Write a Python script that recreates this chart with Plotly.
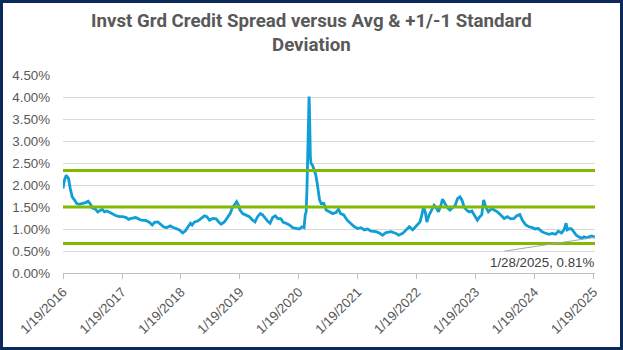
import plotly.graph_objects as go

# ---- data ----
dates = [
    "2016-01-19","2016-01-28","2016-02-08","2016-02-22","2016-03-04","2016-03-16","2016-03-30","2016-04-13",
    "2016-04-30","2016-05-21","2016-06-06","2016-06-23","2016-07-05","2016-07-18","2016-08-07","2016-08-21",
    "2016-09-05","2016-09-18","2016-10-02","2016-10-16","2016-11-02","2016-11-22","2016-12-13","2017-01-03",
    "2017-01-24","2017-02-14","2017-02-28","2017-03-17","2017-04-13","2017-05-01","2017-05-18","2017-06-18",
    "2017-07-08","2017-07-25","2017-08-08","2017-08-29","2017-09-14","2017-10-03","2017-10-20","2017-11-13",
    "2017-11-29","2017-12-20","2018-01-10","2018-01-30","2018-02-16","2018-03-02","2018-03-19","2018-03-29",
    "2018-04-13","2018-05-03","2018-05-24","2018-06-14","2018-06-28","2018-07-15","2018-08-04","2018-08-25",
    "2018-09-10","2018-09-25","2018-10-15","2018-11-05","2018-11-20","2018-12-02","2018-12-16","2018-12-30",
    "2019-01-08","2019-01-20","2019-02-05","2019-02-26","2019-03-19","2019-04-08","2019-04-23","2019-05-09",
    "2019-05-26","2019-06-09","2019-06-26","2019-07-10","2019-07-25","2019-08-10","2019-08-27","2019-09-10",
    "2019-10-01","2019-10-15","2019-11-01","2019-11-22","2019-12-12","2020-01-02","2020-01-22","2020-02-08",
    "2020-02-21","2020-02-28","2020-03-05","2020-03-10","2020-03-16","2020-03-19","2020-03-23","2020-03-25",
    "2020-03-27","2020-03-31","2020-04-04","2020-04-13","2020-04-24","2020-05-04","2020-05-11","2020-05-19",
    "2020-05-27","2020-06-06","2020-06-22","2020-07-07","2020-07-27","2020-08-17","2020-09-07","2020-09-21",
    "2020-10-04","2020-10-24","2020-11-14","2020-12-04","2020-12-29","2021-01-18","2021-02-08","2021-02-28",
    "2021-03-21","2021-04-11","2021-05-12","2021-06-01","2021-06-22","2021-07-13","2021-08-13","2021-09-13",
    "2021-09-29","2021-10-24","2021-11-14","2021-12-04","2021-12-25","2022-01-10","2022-01-24","2022-02-08",
    "2022-02-20","2022-03-02","2022-03-13","2022-03-23","2022-04-06","2022-04-23","2022-05-07","2022-05-22",
    "2022-06-03","2022-06-18","2022-06-28","2022-07-13","2022-07-29","2022-08-13","2022-08-29","2022-09-15",
    "2022-09-29","2022-10-14","2022-10-26","2022-11-09","2022-11-24","2022-12-10","2022-12-27","2023-01-16",
    "2023-01-30","2023-02-14","2023-02-26","2023-03-10","2023-03-23","2023-04-08","2023-04-29","2023-05-14",
    "2023-06-03","2023-06-24","2023-07-15","2023-08-04","2023-08-25","2023-09-14","2023-10-01","2023-10-20",
    "2023-11-05","2023-11-26","2023-12-16","2024-01-06","2024-01-22","2024-02-12","2024-03-04","2024-03-24",
    "2024-04-18","2024-05-08","2024-05-29","2024-06-14","2024-07-05","2024-07-20","2024-08-02","2024-08-09",
    "2024-08-24","2024-09-05","2024-09-20","2024-10-04","2024-10-21","2024-11-07","2024-11-21","2024-12-05",
    "2024-12-22","2025-01-08","2025-01-28",
]
spread_pct = [
    1.92,2.11,2.22,2.15,1.92,1.73,1.66,1.58,
    1.56,1.58,1.60,1.63,1.58,1.48,1.45,1.39,
    1.43,1.45,1.39,1.41,1.38,1.34,1.30,1.28,
    1.28,1.26,1.22,1.24,1.26,1.23,1.20,1.19,
    1.15,1.09,1.15,1.16,1.10,1.05,1.03,1.07,
    1.04,1.01,0.98,0.91,0.96,1.04,1.13,1.09,
    1.16,1.18,1.23,1.30,1.28,1.20,1.24,1.23,
    1.16,1.11,1.16,1.26,1.35,1.47,1.56,1.62,
    1.56,1.43,1.35,1.32,1.28,1.20,1.16,1.28,
    1.35,1.32,1.23,1.18,1.13,1.26,1.30,1.24,
    1.23,1.15,1.13,1.09,1.03,1.01,1.00,1.05,
    1.03,1.32,1.39,1.92,2.75,3.66,4.01,3.81,
    3.28,2.64,2.49,2.45,2.34,2.22,2.07,1.85,
    1.66,1.58,1.58,1.43,1.39,1.35,1.38,1.45,
    1.35,1.32,1.20,1.13,1.05,1.01,1.03,0.98,
    1.00,0.95,0.94,0.91,0.86,0.92,0.94,0.90,
    0.86,0.90,0.98,1.05,0.98,1.05,1.10,1.16,
    1.32,1.50,1.39,1.16,1.32,1.43,1.54,1.47,
    1.39,1.54,1.68,1.58,1.48,1.43,1.48,1.54,
    1.69,1.73,1.66,1.50,1.43,1.39,1.41,1.30,
    1.20,1.28,1.32,1.66,1.50,1.39,1.47,1.43,
    1.39,1.32,1.24,1.28,1.23,1.24,1.30,1.33,
    1.20,1.09,1.05,1.03,1.00,1.01,0.94,0.91,
    0.88,0.90,0.88,0.95,0.91,0.98,1.13,0.98,
    1.01,1.00,0.94,0.86,0.82,0.79,0.82,0.80,
    0.82,0.84,0.81,
]
avg_pct = 1.50
sd_pct = 0.83

tick_dates = ["2016-01-19","2017-01-19","2018-01-19","2019-01-19","2020-01-19",
              "2021-01-19","2022-01-19","2023-01-19","2024-01-19","2025-01-19"]
tick_labels = ["1/19/2016","1/19/2017","1/19/2018","1/19/2019","1/19/2020",
               "1/19/2021","1/19/2022","1/19/2023","1/19/2024","1/19/2025"]
last_label = "1/28/2025, 0.81%"

title_text = "Invst Grd Credit Spread versus Avg & +1/-1 Standard<br>Deviation"

# ---- styling ----
BLUE = "#0F9ED5"
GREEN = "#80BA01"
GRAY_TXT = "#595959"
W, H = 623, 350
ML, MR, MT, MB = 63, 28, 75, 77

spread = [v / 100 for v in spread_pct]
avg = avg_pct / 100
sd = sd_pct / 100
x_span = [dates[0], dates[-1]]

fig = go.Figure()
fig.add_trace(go.Scatter(x=dates, y=spread, mode="lines",
                         line=dict(color=BLUE, width=2.8), name="Spread", showlegend=False))
for lvl in (avg + sd, avg, avg - sd):
    fig.add_trace(go.Scatter(x=x_span, y=[lvl, lvl], mode="lines",
                             line=dict(color=GREEN, width=3), showlegend=False))

pw = W - ML - MR
ph = H - MT - MB
bw = 3
fig.add_shape(type="rect", xref="paper", yref="paper",
              x0=(bw / 2 - ML) / pw, x1=(W - bw / 2 - ML) / pw,
              y0=-(MB - bw / 2) / ph, y1=(H - MB - bw / 2) / ph,
              line=dict(color="#0B2A5A", width=bw), fillcolor="rgba(0,0,0,0)", layer="above")

# chart title (as a paper annotation so both lines sit inside the page)
fig.add_annotation(xref="paper", yref="paper", x=(W / 2 - ML) / pw, y=(H - MB - 8) / ph,
                   xanchor="center", yanchor="top", showarrow=False, text=title_text,
                   font=dict(family="Roboto, Arial", size=18.7, color=GRAY_TXT, weight="bold"))

# leader line and label for the last point
fig.add_annotation(x=dates[-1], y=spread[-1], text="", showarrow=True,
                   ax=-92, ay=14, arrowhead=0, arrowwidth=1, arrowcolor="#A6A6A6",
                   standoff=0, startstandoff=0)
fig.add_annotation(x=dates[-1], y=spread[-1], text=last_label, showarrow=False,
                   xanchor="right", yanchor="middle", yshift=-25, xshift=1,
                   font=dict(family="Liberation Sans, Arial", size=13.3, color="#404040"))

fig.update_layout(
    width=W, height=H,
    margin=dict(l=ML, r=MR, t=MT, b=MB),
    paper_bgcolor="white", plot_bgcolor="white",
    font=dict(family="Liberation Sans, Arial", size=13.3, color=GRAY_TXT),
    xaxis=dict(type="date", range=[dates[0], dates[-1]], tickvals=tick_dates, ticktext=tick_labels,
               tickangle=-45, showgrid=False, showline=True, linecolor="#BFBFBF", linewidth=1,
               ticks="outside", ticklen=5, tickcolor="#BFBFBF", zeroline=False,
               tickfont=dict(size=13.3, color=GRAY_TXT)),
    yaxis=dict(range=[0, 0.045], dtick=0.005, tickformat=".2%", showgrid=True, gridcolor="#D9D9D9",
               gridwidth=1, zeroline=False, showline=False, ticks="", ticklabelstandoff=12,
               tickfont=dict(size=13.3, color=GRAY_TXT)),
)

fig.write_html("out.html")
